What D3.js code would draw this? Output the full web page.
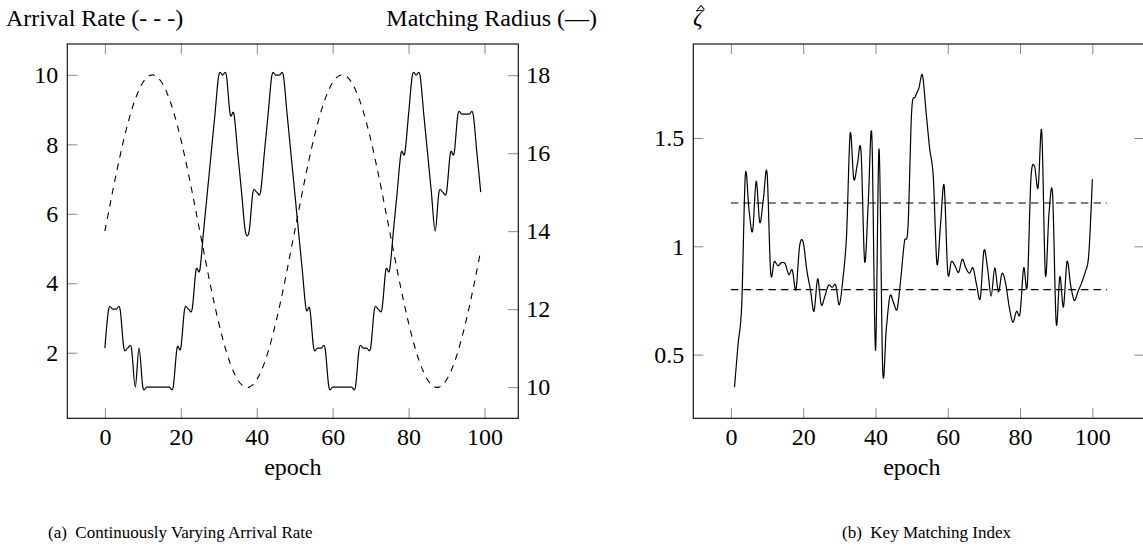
<!DOCTYPE html>
<html>
<head>
<meta charset="utf-8">
<script src="https://cdn.jsdelivr.net/npm/d3@7"></script>
<style>
  html, body { margin: 0; padding: 0; background: #fff; }
</style>
</head>
<body>
<svg id="chart" width="1143" height="554"></svg>
<script>
// ---------- data: panel (a) ----------
// arrival rate per epoch (epochs 0..99)
const arrivalRate = [
  5.50, 6.06, 6.62, 7.16, 7.67, 8.15, 8.58, 8.97, 9.30, 9.57,
  9.78, 9.92, 9.99, 9.99, 9.92, 9.78, 9.57, 9.30, 8.97, 8.58,
  8.15, 7.67, 7.16, 6.62, 6.06, 5.50, 4.94, 4.38, 3.84, 3.33,
  2.85, 2.42, 2.03, 1.70, 1.43, 1.22, 1.08, 1.01, 1.01, 1.08,
  1.22, 1.43, 1.70, 2.03, 2.42, 2.85, 3.33, 3.84, 4.38, 4.94,
  5.50, 6.06, 6.62, 7.16, 7.67, 8.15, 8.58, 8.97, 9.30, 9.57,
  9.78, 9.92, 9.99, 9.99, 9.92, 9.78, 9.57, 9.30, 8.97, 8.58,
  8.15, 7.67, 7.16, 6.62, 6.06, 5.50, 4.94, 4.38, 3.84, 3.33,
  2.85, 2.42, 2.03, 1.70, 1.43, 1.22, 1.08, 1.01, 1.01, 1.08,
  1.22, 1.43, 1.70, 2.03, 2.42, 2.85, 3.33, 3.84, 4.38, 4.94
];
// matching radius per epoch (epochs 0..99)
const matchingRadius = [
  11, 12, 12, 12, 12, 11, 11, 11, 10, 11,
  10, 10, 10, 10, 10, 10, 10, 10, 10, 11,
  11, 12, 12, 12, 13, 13, 14, 15, 16, 17,
  18, 18, 18, 17, 17, 16, 15, 14, 14, 15,
  15, 15, 16, 17, 18, 18, 18, 18, 17, 16,
  15, 14, 13, 12, 12, 11, 11, 11, 11, 10,
  10, 10, 10, 10, 10, 10, 10, 11, 11, 11,
  11, 12, 12, 12, 13, 13, 14, 15, 16, 16,
  17, 18, 18, 18, 17, 16, 15, 14, 15, 15,
  15, 16, 16, 17, 17, 17, 17, 17, 16, 15
];
const epochsA = arrivalRate.map((_, i) => i);

// ---------- data: panel (b) ----------
// key matching index per epoch (epochs 1..100)
const keyIndex = [
  0.35, 0.55, 0.73, 1.33, 1.17, 1.07, 1.30, 1.11, 1.22, 1.34,
  0.88, 0.93, 0.91, 0.925, 0.92, 0.87, 0.89, 0.80, 1.00, 1.02,
  0.89, 0.80, 0.70, 0.85, 0.73, 0.77, 0.82, 0.81, 0.82, 0.73,
  0.85, 1.05, 1.52, 1.31, 1.38, 1.44, 0.93, 1.20, 1.51, 0.52,
  1.45, 0.43, 0.62, 0.77, 0.74, 0.71, 0.85, 1.02, 1.09, 1.62,
  1.69, 1.73, 1.79, 1.62, 1.45, 1.32, 0.92, 1.10, 1.28, 0.88,
  0.93, 0.91, 0.88, 0.94, 0.90, 0.875, 0.90, 0.82, 0.76, 0.98,
  0.90, 0.77, 0.90, 0.79, 0.875, 0.83, 0.72, 0.65, 0.70, 0.69,
  0.90, 0.82, 1.31, 1.37, 1.27, 1.53, 0.87, 1.15, 1.24, 0.645,
  0.86, 0.72, 0.93, 0.82, 0.75, 0.79, 0.83, 0.88, 0.96, 1.31
];
const epochsB = keyIndex.map((_, i) => i + 1);
const thresholdLevels = [0.8, 1.2];
const thresholdSpan = [0, 104];

// ---------- ticks and labels ----------
const epochTicks = [0, 20, 40, 60, 80, 100];
const arrivalTicks = [2, 4, 6, 8, 10];
const radiusTicks = [10, 12, 14, 16, 18];
const indexTicks = [0.5, 1, 1.5];
const indexTickLabels = ["0.5", "1", "1.5"];

// ---------- layout ----------
const SERIF = "'Liberation Serif', 'Times New Roman', serif";
const FONT = 24;
const TICK = 10;
const panelA = { left: 67.3, right: 518.3, top: 44, bottom: 418.3 };
const panelB = { left: 693.3, right: 1144.4, top: 44, bottom: 418.3 };

// axis limits enlarged by 10% of the data range on each side
function enlarged(values) {
  const [lo, hi] = d3.extent(values);
  const pad = 0.1 * (hi - lo);
  return [lo - pad, hi + pad];
}

const svg = d3.select("#chart");
svg.append("rect").attr("width", 1143).attr("height", 554).attr("fill", "#fff");

function styleAxis(g, showLabels) {
  g.attr("font-family", null).attr("font-size", null);
  g.select(".domain").remove();
  g.selectAll(".tick line").attr("stroke", "#8a8a8a").attr("stroke-width", 1);
  g.selectAll(".tick text").attr("font-size", FONT).attr("fill", "#000");
  if (!showLabels) g.selectAll(".tick text").remove();
}

function drawFrame(p) {
  svg.append("rect")
    .attr("x", p.left).attr("y", p.top)
    .attr("width", p.right - p.left).attr("height", p.bottom - p.top)
    .attr("fill", "none").attr("stroke", "#000").attr("stroke-width", 1.1);
}

const smooth = d3.curveCardinal.tension(0);

// ================= panel (a) =================
const xA = d3.scaleLinear().domain(enlarged(epochsA)).range([panelA.left, panelA.right]);
const yArr = d3.scaleLinear().domain(enlarged(arrivalRate)).range([panelA.bottom, panelA.top]);
const yRad = d3.scaleLinear().domain(enlarged(matchingRadius)).range([panelA.bottom, panelA.top]);

const gA = svg.append("g");
gA.append("g").attr("transform", `translate(0,${panelA.bottom})`)
  .call(d3.axisBottom(xA).tickValues(epochTicks).tickSize(-TICK).tickPadding(10))
  .call(g => styleAxis(g, true));
gA.append("g").attr("transform", `translate(0,${panelA.top})`)
  .call(d3.axisTop(xA).tickValues(epochTicks).tickSize(-TICK))
  .call(g => styleAxis(g, false));
gA.append("g").attr("transform", `translate(${panelA.left},0)`)
  .call(d3.axisLeft(yArr).tickValues(arrivalTicks).tickSize(-TICK).tickPadding(9))
  .call(g => styleAxis(g, true));
gA.append("g").attr("transform", `translate(${panelA.right},0)`)
  .call(d3.axisRight(yRad).tickValues(radiusTicks).tickSize(-TICK).tickPadding(8))
  .call(g => styleAxis(g, true));

gA.append("path")
  .datum(epochsA)
  .attr("fill", "none").attr("stroke", "#000").attr("stroke-width", 1.1)
  .attr("stroke-dasharray", "6.5,6")
  .attr("d", d3.line().x(i => xA(i)).y(i => yArr(arrivalRate[i])).curve(smooth));

gA.append("path")
  .datum(epochsA)
  .attr("fill", "none").attr("stroke", "#000").attr("stroke-width", 1.2)
  .attr("d", d3.line().x(i => xA(i)).y(i => yRad(matchingRadius[i])).curve(smooth));

drawFrame(panelA);

gA.append("text").attr("x", 6).attr("y", 26).attr("font-size", FONT)
  .text("Arrival Rate (- - -)");
gA.append("text").attr("x", 597).attr("y", 26).attr("font-size", FONT)
  .attr("text-anchor", "end").text("Matching Radius (—)");
gA.append("text").attr("x", (panelA.left + panelA.right) / 2).attr("y", 475)
  .attr("font-size", FONT).attr("text-anchor", "middle").text("epoch");
gA.append("text").attr("x", 48).attr("y", 538).attr("font-size", 17)
  .text("(a)\u2002Continuously Varying Arrival Rate");

// ================= panel (b) =================
const xB = d3.scaleLinear()
  .domain(enlarged(epochsB.concat(thresholdSpan)))
  .range([panelB.left, panelB.right]);
const yB = d3.scaleLinear().domain(enlarged(keyIndex)).range([panelB.bottom, panelB.top]);

const gB = svg.append("g");
gB.append("g").attr("transform", `translate(0,${panelB.bottom})`)
  .call(d3.axisBottom(xB).tickValues(epochTicks).tickSize(-TICK).tickPadding(10))
  .call(g => styleAxis(g, true));
gB.append("g").attr("transform", `translate(0,${panelB.top})`)
  .call(d3.axisTop(xB).tickValues(epochTicks).tickSize(-TICK))
  .call(g => styleAxis(g, false));
gB.append("g").attr("transform", `translate(${panelB.left},0)`)
  .call(d3.axisLeft(yB).tickValues(indexTicks).tickSize(-TICK).tickPadding(9)
    .tickFormat((d, i) => indexTickLabels[i]))
  .call(g => styleAxis(g, true));
gB.append("g").attr("transform", `translate(${panelB.right},0)`)
  .call(d3.axisRight(yB).tickValues(indexTicks).tickSize(-TICK))
  .call(g => styleAxis(g, false));

gB.selectAll("line.threshold")
  .data(thresholdLevels)
  .enter().append("line")
  .attr("class", "threshold")
  .attr("x1", xB(thresholdSpan[0])).attr("x2", xB(thresholdSpan[1]))
  .attr("y1", d => yB(d)).attr("y2", d => yB(d))
  .attr("stroke", "#000").attr("stroke-width", 1.1)
  .attr("stroke-dasharray", "7.5,5");

gB.append("path")
  .datum(epochsB)
  .attr("fill", "none").attr("stroke", "#000").attr("stroke-width", 1.2)
  .attr("d", d3.line().x(e => xB(e)).y((e, i) => yB(keyIndex[i])).curve(smooth));

drawFrame(panelB);

// axis title: italic zeta with a small hat stroke above it
gB.append("text").attr("x", 693).attr("y", 25).attr("font-size", FONT)
  .attr("font-style", "italic").text("\u03B6");
gB.append("path")
  .attr("d", "M697.5,9.5 L701,5.5 L704.5,9.5")
  .attr("fill", "none").attr("stroke", "#000").attr("stroke-width", 1.1);
gB.append("text").attr("x", (panelB.left + panelB.right) / 2 - 7).attr("y", 475)
  .attr("font-size", FONT).attr("text-anchor", "middle").text("epoch");
gB.append("text").attr("x", 842).attr("y", 538).attr("font-size", 17)
  .text("(b)\u2002Key Matching Index");

// every label in the figure uses the same serif face
svg.selectAll("text").style("font-family", SERIF);
</script>
</body>
</html>
